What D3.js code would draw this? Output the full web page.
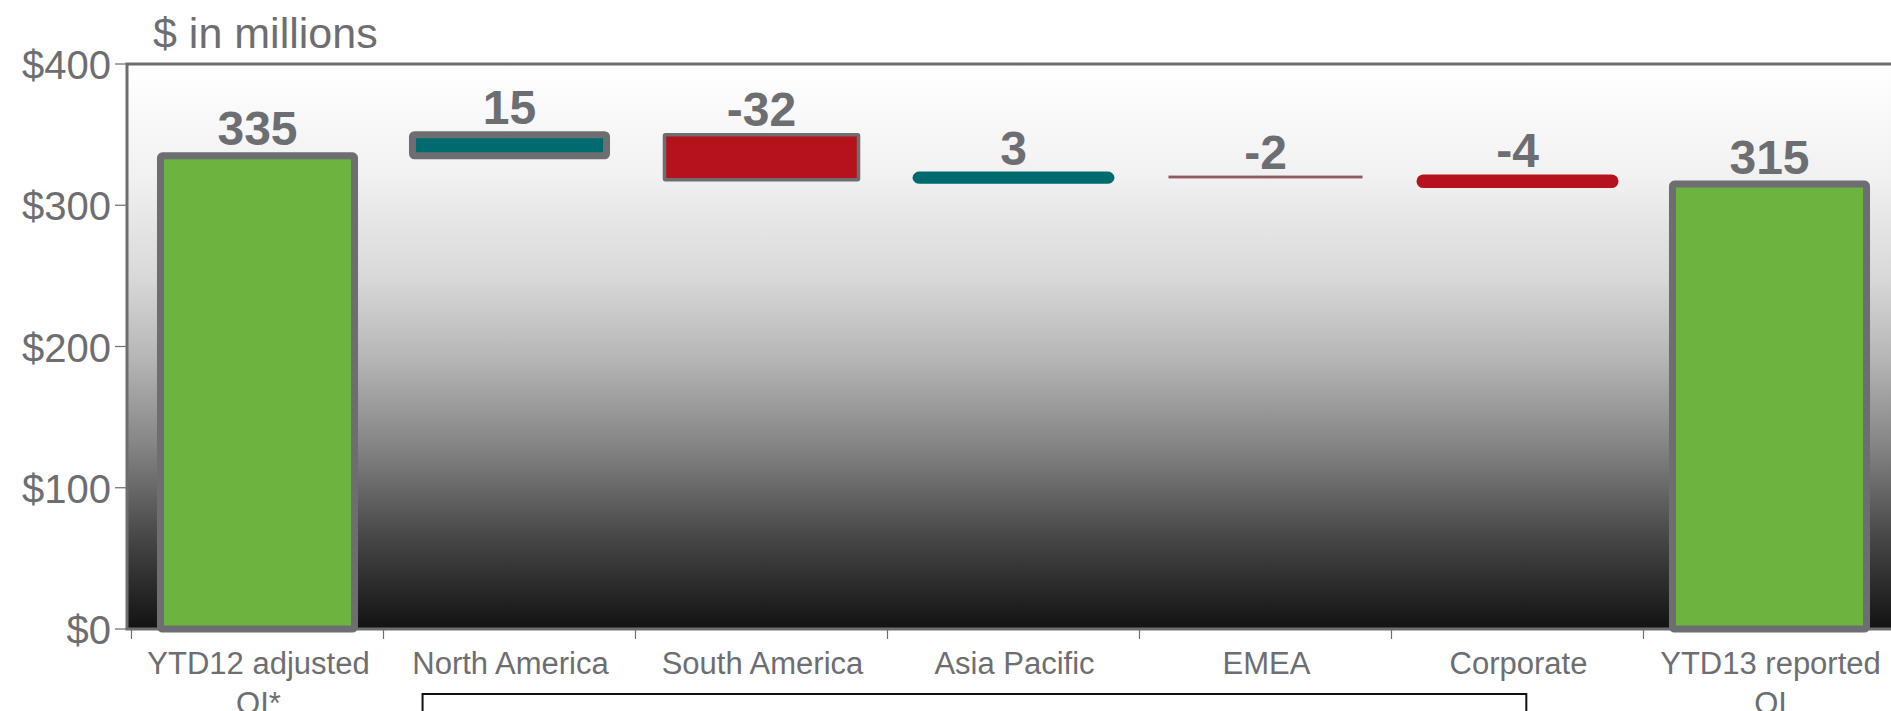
<!DOCTYPE html>
<html>
<head>
<meta charset="utf-8">
<script src="https://cdn.jsdelivr.net/npm/d3@7"></script>
<style>
  html, body { margin: 0; padding: 0; background: #ffffff; }
  svg { display: block; }
  text { font-family: "Liberation Sans", Arial, sans-serif; }
</style>
</head>
<body>
<svg id="chart" width="1891" height="711"></svg>
<script>
// ---- data ----
const categories = ["YTD12 adjusted\nOI*", "North America", "South America", "Asia Pacific", "EMEA", "Corporate", "YTD13 reported\nOI"];
const values = [335, 15, -32, 3, -2, -4, 315];
const kinds = ["total", "delta", "delta", "delta", "delta", "delta", "total"];
const valueLabels = ["335", "15", "-32", "3", "-2", "-4", "315"];
const yTicks = [0, 100, 200, 300, 400];
const yTickLabels = ["$0", "$100", "$200", "$300", "$400"];
const unitLabel = "$ in millions";

// ---- styles (per category) ----
const GRAY = "#6d6e71";
const styles = [
  { fill: "#6cb33f", stroke: GRAY, sw: 7, rx: 2 },
  { fill: "#006b6e", stroke: GRAY, sw: 7, rx: 2 },
  { fill: "#b5121b", stroke: GRAY, sw: 3.5, rx: 1 },
  { fill: "#006b6e", stroke: "#006b6e", sw: 8, rx: 3 },
  { fill: "#8e5a60", stroke: "none", sw: 0, rx: 0 },
  { fill: "#b5121b", stroke: "#b5121b", sw: 8, rx: 3 },
  { fill: "#6cb33f", stroke: GRAY, sw: 7, rx: 2 }
];

// ---- waterfall computation ----
let running = 0;
const bars = values.map((v, i) => {
  let start, end;
  if (kinds[i] === "total") { start = 0; end = v; running = v; }
  else { start = running; end = running + v; running = end; }
  return { cat: categories[i], start, end, label: valueLabels[i], style: styles[i] };
});

const svg = d3.select("#chart");
const plotLeft = 127, plotTop = 64, plotBottom = 629, plotRight = 1900;

const x = d3.scaleBand().domain(categories).range([131.5, 1895.5]).paddingInner(0.23).paddingOuter(0.115);
const y = d3.scaleLinear().domain([0, 400]).range([plotBottom, plotTop]);

// gradient
const defs = svg.append("defs");
const grad = defs.append("linearGradient").attr("id", "bg").attr("x1", 0).attr("y1", 0).attr("x2", 0).attr("y2", 1);
[[0, "#ffffff"], [0.2, "#f1f1f1"], [0.38, "#d8d8d8"], [0.52, "#b6b6b6"], [0.68, "#838383"], [0.84, "#464646"], [1, "#121212"]]
  .forEach(([o, c]) => grad.append("stop").attr("offset", o).attr("stop-color", c));

// plot area
svg.append("rect")
  .attr("x", plotLeft).attr("y", y(400))
  .attr("width", plotRight - plotLeft).attr("height", y(0) - y(400))
  .attr("fill", "url(#bg)")
  .attr("stroke", GRAY).attr("stroke-width", 3);

// y axis ticks and labels
const yAxis = svg.append("g");
yAxis.selectAll("line").data(yTicks).join("line")
  .attr("x1", 115).attr("x2", plotLeft)
  .attr("y1", d => y(d)).attr("y2", d => y(d))
  .attr("stroke", GRAY).attr("stroke-width", 1.2);
yAxis.selectAll("text").data(yTicks).join("text")
  .attr("x", 111).attr("y", d => y(d) + 1)
  .attr("text-anchor", "end").attr("dominant-baseline", "central")
  .attr("font-size", 40).attr("fill", GRAY)
  .text((d, i) => yTickLabels[i]);

// x axis ticks at band boundaries
const step = x.step();
const boundaries = d3.range(categories.length + 1).map(i => x.range()[0] + i * step);
svg.append("g").selectAll("line").data(boundaries).join("line")
  .attr("x1", d => d).attr("x2", d => d)
  .attr("y1", plotBottom).attr("y2", plotBottom + 10)
  .attr("stroke", GRAY).attr("stroke-width", 1.2);

// category labels
const catG = svg.append("g");
categories.forEach(c => {
  const lines = c.split("\n");
  const cx = x(c) + x.bandwidth() / 2 + 1;
  const t = catG.append("text")
    .attr("x", cx)
    .attr("y", 674)
    .attr("text-anchor", "middle")
    .attr("font-size", 31).attr("fill", GRAY);
  lines.forEach((ln, j) => {
    t.append("tspan").attr("x", cx).attr("dy", j === 0 ? 0 : 40).text(ln);
  });
});

// bars
const barG = svg.append("g");
bars.forEach(b => {
  const top = y(Math.max(b.start, b.end));
  const bot = y(Math.min(b.start, b.end));
  barG.append("rect")
    .attr("x", x(b.cat)).attr("y", top)
    .attr("width", x.bandwidth()).attr("height", Math.max(bot - top, 0.5))
    .attr("fill", b.style.fill)
    .attr("stroke", b.style.stroke).attr("stroke-width", b.style.sw)
    .attr("stroke-linejoin", "round")
    .attr("rx", b.style.rx);
  barG.append("text")
    .attr("x", x(b.cat) + x.bandwidth() / 2)
    .attr("y", top - b.style.sw / 2 - 7)
    .attr("text-anchor", "middle")
    .attr("font-size", 48).attr("font-weight", "bold").attr("fill", GRAY)
    .text(b.label);
});

// unit label
svg.append("text").attr("x", 153).attr("y", 48)
  .attr("font-size", 43).attr("fill", GRAY).text(unitLabel);

// bracket box grouping regional categories
const bx1 = x("North America") + 0.04 * step;
const bx2 = x("Corporate") + 0.42 * step;
svg.append("path")
  .attr("d", `M${bx1},720 V694 H${bx2} V720`)
  .attr("fill", "none").attr("stroke", "#111").attr("stroke-width", 2);
</script>
</body>
</html>
